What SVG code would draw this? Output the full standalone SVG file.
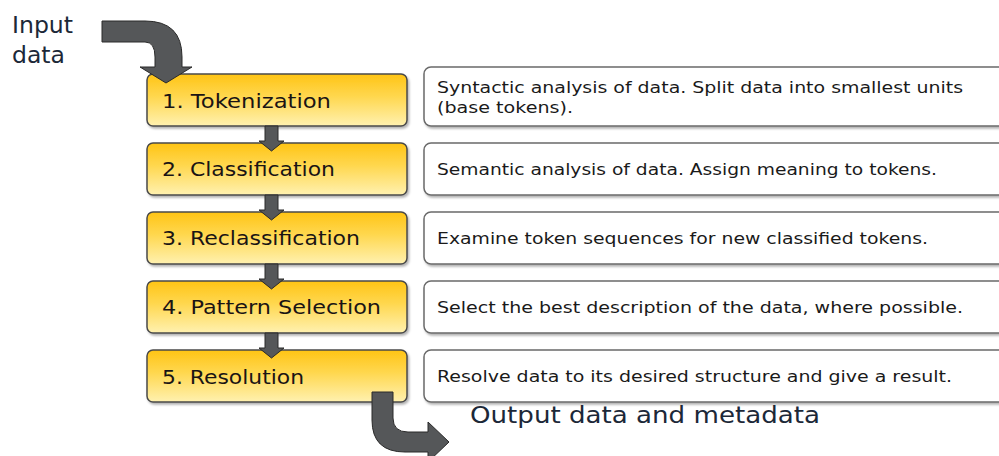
<svg xmlns="http://www.w3.org/2000/svg" width="999" height="456" viewBox="0 0 999 456">
<defs>
<linearGradient id="yg" x1="0" y1="0" x2="0" y2="1">
<stop offset="0" stop-color="#ffc414"/>
<stop offset="0.45" stop-color="#ffd851"/>
<stop offset="1" stop-color="#fff1b0"/>
</linearGradient>
<filter id="sh" x="-5%" y="-10%" width="110%" height="130%">
<feDropShadow dx="1.5" dy="2" stdDeviation="1.2" flood-color="#000" flood-opacity="0.3"/>
</filter>
</defs>
<style>
.step{fill:url(#yg);stroke:#4a4a4a;stroke-width:1.5;filter:url(#sh)}
.desc{fill:#fff;stroke:#6a6a6a;stroke-width:1.5;filter:url(#sh)}
.lbl{font-family:"DejaVu Sans",Verdana,sans-serif;font-size:20px;fill:#1a1414}
.dtx{font-family:"DejaVu Sans",Verdana,sans-serif;font-size:16px;fill:#1a1a1a}
.big{font-family:"DejaVu Sans",Verdana,sans-serif;font-size:23px;fill:#1c2838}
.arr{fill:#555759;stroke:#2a2a2a;stroke-width:1}
</style>
<rect width="999" height="456" fill="#fff"/>
<g id="input-label"><text class="big" x="12" y="33" textLength="61" lengthAdjust="spacingAndGlyphs">Input</text><text class="big" x="12" y="63" textLength="53" lengthAdjust="spacingAndGlyphs">data</text></g>
<g id="output-label"><text class="big" x="470" y="423" textLength="350" lengthAdjust="spacingAndGlyphs">Output data and metadata</text></g>
<g id="step1"><rect class="step" x="147" y="74" width="260" height="52" rx="6"/><text class="lbl" x="162" y="108" textLength="169" lengthAdjust="spacingAndGlyphs">1. Tokenization</text></g>
<g id="step2"><rect class="step" x="147" y="143" width="260" height="52" rx="6"/><text class="lbl" x="162" y="176" textLength="173" lengthAdjust="spacingAndGlyphs">2. Classification</text></g>
<g id="step3"><rect class="step" x="147" y="212" width="260" height="52" rx="6"/><text class="lbl" x="162" y="245" textLength="198" lengthAdjust="spacingAndGlyphs">3. Reclassification</text></g>
<g id="step4"><rect class="step" x="147" y="281" width="260" height="52" rx="6"/><text class="lbl" x="162" y="314" textLength="219" lengthAdjust="spacingAndGlyphs">4. Pattern Selection</text></g>
<g id="step5"><rect class="step" x="147" y="350" width="260" height="52" rx="6"/><text class="lbl" x="162" y="384" textLength="142" lengthAdjust="spacingAndGlyphs">5. Resolution</text></g>
<g id="desc1"><rect class="desc" x="424" y="67" width="600" height="59" rx="7"/><text class="dtx" x="437" y="93" textLength="526" lengthAdjust="spacingAndGlyphs">Syntactic analysis of data. Split data into smallest units</text><text class="dtx" x="437" y="113" textLength="136" lengthAdjust="spacingAndGlyphs">(base tokens).</text></g>
<g id="desc2"><rect class="desc" x="424" y="143" width="600" height="52" rx="7"/><text class="dtx" x="437" y="175" textLength="500" lengthAdjust="spacingAndGlyphs">Semantic analysis of data. Assign meaning to tokens.</text></g>
<g id="desc3"><rect class="desc" x="424" y="212" width="600" height="52" rx="7"/><text class="dtx" x="437" y="244" textLength="491" lengthAdjust="spacingAndGlyphs">Examine token sequences for new classified tokens.</text></g>
<g id="desc4"><rect class="desc" x="424" y="281" width="600" height="52" rx="7"/><text class="dtx" x="437" y="313" textLength="526" lengthAdjust="spacingAndGlyphs">Select the best description of the data, where possible.</text></g>
<g id="desc5"><rect class="desc" x="424" y="350" width="600" height="52" rx="7"/><text class="dtx" x="437" y="382" textLength="515" lengthAdjust="spacingAndGlyphs">Resolve data to its desired structure and give a result.</text></g>
<g id="connectors">
<path class="arr" d="M102,21 L145,21 Q182,21 182,57 L182,67 L192,67 L166,83 L140,67 L155,67 L155,57 Q155,42 145,42 L102,42 Z"/>
<path class="arr" d="M265,126 L278,126 L278,141 L284,141 L271.5,151 L259,141 L265,141 Z"/>
<path class="arr" d="M265,195 L278,195 L278,210 L284,210 L271.5,220 L259,210 L265,210 Z"/>
<path class="arr" d="M265,264 L278,264 L278,279 L284,279 L271.5,289 L259,279 L265,279 Z"/>
<path class="arr" d="M265,333 L278,333 L278,348 L284,348 L271.5,358 L259,348 L265,348 Z"/>
<path class="arr" d="M372,392 L393,392 L393,418 Q393,432 408,432 L428,432 L428,422 L449,442 L428,462 L428,452 L405,452 Q372,452 372,420 Z"/>
</g>
</svg>
